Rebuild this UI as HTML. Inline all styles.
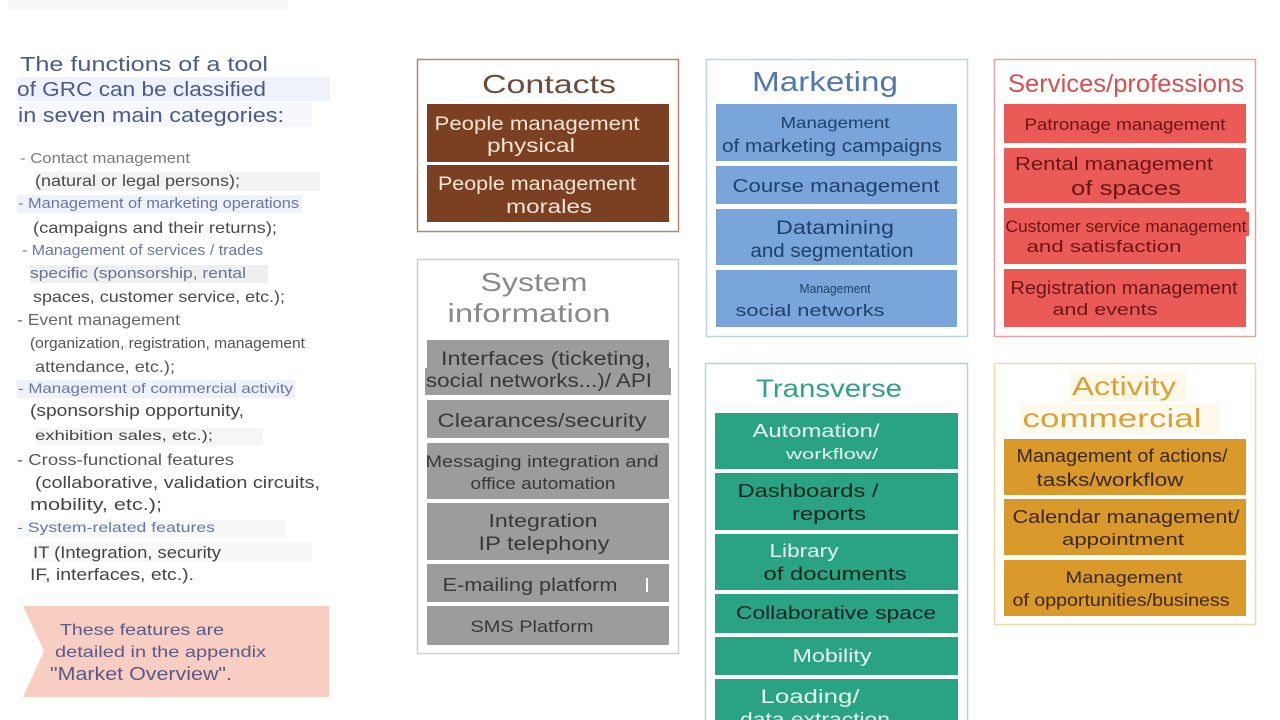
<!DOCTYPE html>
<html><head><meta charset="utf-8"><style>
html,body{margin:0;padding:0;background:#fff;width:1280px;height:720px;overflow:hidden}
svg{display:block}
text{font-family:"Liberation Sans",Arial,sans-serif}
</style></head><body>
<svg width="1280" height="720" viewBox="0 0 1280 720" xmlns="http://www.w3.org/2000/svg">
<rect x="0" y="0" width="1280" height="720" fill="#ffffff"/>
<rect x="8" y="0" width="280" height="10" fill="#f7f7f7"/>

<!-- left highlights -->
<rect x="17" y="77" width="313" height="24" fill="#eef2fb"/>
<rect x="17" y="103" width="295" height="24" fill="#f6f8fd"/>
<rect x="35" y="172" width="285" height="19" fill="#f3f3f3"/>
<rect x="17" y="195" width="285" height="18" fill="#eef2fa"/>
<rect x="30" y="265" width="238" height="18" fill="#efefef"/>
<rect x="17" y="380" width="278" height="18" fill="#edf1fa"/>
<rect x="35" y="428" width="228" height="17" fill="#f6f6f6"/>
<rect x="17" y="520" width="268" height="17" fill="#f7f7f7"/>
<rect x="33" y="542" width="279" height="20" fill="#f8f8f8"/>

<!-- left heading -->
<g fill="#4a5b8c">
<text x="20" y="71" font-size="20" textLength="248" lengthAdjust="spacingAndGlyphs">The functions of a tool</text>
<text x="17" y="96" font-size="20" textLength="249" lengthAdjust="spacingAndGlyphs">of GRC can be classified</text>
<text x="18" y="122" font-size="20" textLength="266" lengthAdjust="spacingAndGlyphs">in seven main categories:</text>
</g>
<!-- left bullets -->
<text x="20" y="163" font-size="15" fill="#7a7a7a" textLength="170" lengthAdjust="spacingAndGlyphs">- Contact management</text>
<text x="35" y="186" font-size="16" fill="#4a4a4a" textLength="205" lengthAdjust="spacingAndGlyphs">(natural or legal persons);</text>
<text x="18" y="208" font-size="15" fill="#6877a6" textLength="281" lengthAdjust="spacingAndGlyphs">- Management of marketing operations</text>
<text x="33" y="233" font-size="16" fill="#4a4a4a" textLength="244" lengthAdjust="spacingAndGlyphs">(campaigns and their returns);</text>
<text x="22" y="255" font-size="15" fill="#6877a6" textLength="241" lengthAdjust="spacingAndGlyphs">- Management of services / trades</text>
<text x="30" y="278" font-size="15" fill="#6a7290" textLength="216" lengthAdjust="spacingAndGlyphs">specific (sponsorship, rental</text>
<text x="33" y="302" font-size="16" fill="#4a4a4a" textLength="252" lengthAdjust="spacingAndGlyphs">spaces, customer service, etc.);</text>
<text x="17" y="325" font-size="16" fill="#666" textLength="163" lengthAdjust="spacingAndGlyphs">- Event management</text>
<text x="30" y="348" font-size="14.5" fill="#555" textLength="275" lengthAdjust="spacingAndGlyphs">(organization, registration, management</text>
<text x="35" y="372" font-size="16" fill="#555" textLength="140" lengthAdjust="spacingAndGlyphs">attendance, etc.);</text>
<text x="18" y="393" font-size="14" fill="#6877a6" textLength="275" lengthAdjust="spacingAndGlyphs">- Management of commercial activity</text>
<text x="30" y="416" font-size="17" fill="#444" textLength="214" lengthAdjust="spacingAndGlyphs">(sponsorship opportunity,</text>
<text x="35" y="440" font-size="14" fill="#444" textLength="178" lengthAdjust="spacingAndGlyphs">exhibition sales, etc.);</text>
<text x="17" y="465" font-size="16" fill="#555" textLength="217" lengthAdjust="spacingAndGlyphs">- Cross-functional features</text>
<text x="35" y="488" font-size="17" fill="#444" textLength="285" lengthAdjust="spacingAndGlyphs">(collaborative, validation circuits,</text>
<text x="30" y="510" font-size="17" fill="#444" textLength="132" lengthAdjust="spacingAndGlyphs">mobility, etc.);</text>
<text x="17" y="532" font-size="13.5" fill="#6877a6" textLength="198" lengthAdjust="spacingAndGlyphs">- System-related features</text>
<text x="33" y="558" font-size="17" fill="#444" textLength="188" lengthAdjust="spacingAndGlyphs">IT (Integration, security</text>
<text x="30" y="580" font-size="17" fill="#444" textLength="164" lengthAdjust="spacingAndGlyphs">IF, interfaces, etc.).</text>

<!-- pink note -->
<polygon points="23,606 329,606 329,697 23,697 44,651" fill="#f8cdc2"/>
<g fill="#5a5a88">
<text x="60" y="635" font-size="16" textLength="164" lengthAdjust="spacingAndGlyphs">These features are</text>
<text x="55" y="657" font-size="16" textLength="211" lengthAdjust="spacingAndGlyphs">detailed in the appendix</text>
<text x="50" y="680" font-size="18" textLength="182" lengthAdjust="spacingAndGlyphs">"Market Overview".</text>
</g>

<!-- CONTACTS -->
<rect x="417.5" y="59.5" width="261" height="172" fill="#fff" stroke="#b08878" stroke-width="1.5"/>
<text x="549" y="93" font-size="26" fill="#6e4a3a" text-anchor="middle" textLength="134" lengthAdjust="spacingAndGlyphs">Contacts</text>
<rect x="427" y="104" width="242" height="58" fill="#7b3f22"/>
<rect x="427" y="165" width="242" height="57" fill="#7b3f22"/>
<g fill="#f3e4d6" text-anchor="middle">
<text x="537" y="130" font-size="19" textLength="205" lengthAdjust="spacingAndGlyphs">People management</text>
<text x="531" y="152" font-size="19" textLength="88" lengthAdjust="spacingAndGlyphs">physical</text>
<text x="537" y="190" font-size="19" textLength="198" lengthAdjust="spacingAndGlyphs">People management</text>
<text x="549" y="213" font-size="19" textLength="86" lengthAdjust="spacingAndGlyphs">morales</text>
</g>

<!-- SYSTEM INFORMATION -->
<rect x="417.5" y="259.5" width="261" height="394" fill="#fff" stroke="#d0d0d0" stroke-width="1.5"/>
<g fill="#8a8a8a" text-anchor="middle">
<text x="534" y="291" font-size="26" textLength="107" lengthAdjust="spacingAndGlyphs">System</text>
<text x="529" y="322" font-size="26" textLength="163" lengthAdjust="spacingAndGlyphs">information</text>
</g>
<g fill="#9c9c9c">
<rect x="427" y="340" width="242" height="55"/>
<rect x="425" y="368" width="246" height="27"/>
<rect x="427" y="400" width="242" height="38"/>
<rect x="427" y="443" width="242" height="56"/>
<rect x="427" y="503" width="242" height="57"/>
<rect x="427" y="564" width="242" height="38"/>
<rect x="427" y="606" width="242" height="39"/>
</g>
<g fill="#383838" text-anchor="middle">
<text x="546" y="365" font-size="19" textLength="210" lengthAdjust="spacingAndGlyphs">Interfaces (ticketing,</text>
<text x="539" y="387" font-size="19" textLength="226" lengthAdjust="spacingAndGlyphs">social networks...)/ API</text>
<text x="542" y="427" font-size="19" textLength="209" lengthAdjust="spacingAndGlyphs">Clearances/security</text>
<text x="542" y="467" font-size="17" textLength="233" lengthAdjust="spacingAndGlyphs">Messaging integration and</text>
<text x="543" y="489" font-size="16.5" textLength="145" lengthAdjust="spacingAndGlyphs">office automation</text>
<text x="543" y="527" font-size="18" textLength="109" lengthAdjust="spacingAndGlyphs">Integration</text>
<text x="544" y="550" font-size="19" textLength="131" lengthAdjust="spacingAndGlyphs">IP telephony</text>
<text x="530" y="591" font-size="18" textLength="175" lengthAdjust="spacingAndGlyphs">E-mailing platform</text>
<text x="532" y="632" font-size="17" textLength="123" lengthAdjust="spacingAndGlyphs">SMS Platform</text>
</g>
<rect x="646" y="578" width="2" height="14" fill="#fff"/>

<!-- MARKETING -->
<rect x="706.5" y="59.5" width="261" height="277" fill="#fff" stroke="#bcd3e6" stroke-width="1.5"/>
<text x="825" y="91" font-size="28" fill="#4f78b0" text-anchor="middle" textLength="146" lengthAdjust="spacingAndGlyphs">Marketing</text>
<g fill="#7aa5da">
<rect x="716" y="104" width="241" height="57"/>
<rect x="716" y="166" width="241" height="38"/>
<rect x="716" y="209" width="241" height="56"/>
<rect x="716" y="270" width="241" height="57"/>
</g>
<g fill="#21406b" text-anchor="middle">
<text x="835" y="128" font-size="16" textLength="109" lengthAdjust="spacingAndGlyphs">Management</text>
<text x="832" y="152" font-size="18" textLength="220" lengthAdjust="spacingAndGlyphs">of marketing campaigns</text>
<text x="836" y="192" font-size="18" textLength="207" lengthAdjust="spacingAndGlyphs">Course management</text>
<text x="835" y="234" font-size="19" textLength="118" lengthAdjust="spacingAndGlyphs">Datamining</text>
<text x="832" y="257" font-size="19" textLength="163" lengthAdjust="spacingAndGlyphs">and segmentation</text>
<text x="835" y="293" font-size="13" textLength="71" lengthAdjust="spacingAndGlyphs">Management</text>
<text x="810" y="316" font-size="17" textLength="149" lengthAdjust="spacingAndGlyphs">social networks</text>
</g>

<!-- TRANSVERSE -->
<rect x="705.5" y="363.5" width="262" height="360" fill="#fff" stroke="#a8dccf" stroke-width="1.5"/>
<text x="829" y="397" font-size="25" fill="#30a088" text-anchor="middle" textLength="146" lengthAdjust="spacingAndGlyphs">Transverse</text>
<g fill="#2aa383">
<rect x="715" y="413" width="243" height="56"/>
<rect x="715" y="473" width="243" height="57"/>
<rect x="715" y="534" width="243" height="56"/>
<rect x="715" y="594" width="243" height="39"/>
<rect x="715" y="637" width="243" height="38"/>
<rect x="715" y="679" width="243" height="45"/>
</g>
<g text-anchor="middle">
<text x="816" y="437" font-size="18" fill="#e6f6ef" textLength="127" lengthAdjust="spacingAndGlyphs">Automation/</text>
<text x="832" y="459" font-size="15" fill="#e6f6ef" textLength="92" lengthAdjust="spacingAndGlyphs">workflow/</text>
<text x="808" y="497" font-size="18" fill="#10261f" textLength="141" lengthAdjust="spacingAndGlyphs">Dashboards /</text>
<text x="829" y="520" font-size="18" fill="#10261f" textLength="74" lengthAdjust="spacingAndGlyphs">reports</text>
<text x="804" y="557" font-size="18" fill="#e6f6ef" textLength="69" lengthAdjust="spacingAndGlyphs">Library</text>
<text x="835" y="580" font-size="18" fill="#10261f" textLength="143" lengthAdjust="spacingAndGlyphs">of documents</text>
<text x="836" y="619" font-size="18" fill="#10261f" textLength="200" lengthAdjust="spacingAndGlyphs">Collaborative space</text>
<text x="832" y="662" font-size="18" fill="#e6f6ef" textLength="79" lengthAdjust="spacingAndGlyphs">Mobility</text>
<text x="810" y="703" font-size="19" fill="#e6f6ef" textLength="99" lengthAdjust="spacingAndGlyphs">Loading/</text>
<text x="815" y="726" font-size="19" fill="#e6f6ef" textLength="150" lengthAdjust="spacingAndGlyphs">data extraction</text>
</g>

<!-- SERVICES -->
<rect x="994.5" y="59.5" width="261" height="277" fill="#fff" stroke="#e3a3a3" stroke-width="1.5"/>
<text x="1126" y="92" font-size="25" fill="#d65050" text-anchor="middle" textLength="236" lengthAdjust="spacingAndGlyphs">Services/professions</text>
<g fill="#ea5a57">
<rect x="1004" y="104" width="242" height="39"/>
<rect x="1004" y="148" width="242" height="55"/>
<rect x="1004" y="208" width="242" height="56"/>
<rect x="1004" y="212" width="245" height="24"/>
<rect x="1004" y="269" width="242" height="58"/>
</g>
<g fill="#6b1616" text-anchor="middle">
<text x="1125" y="130" font-size="17" textLength="201" lengthAdjust="spacingAndGlyphs">Patronage management</text>
<text x="1114" y="170" font-size="18" textLength="198" lengthAdjust="spacingAndGlyphs">Rental management</text>
<text x="1126" y="195" font-size="20" textLength="110" lengthAdjust="spacingAndGlyphs">of spaces</text>
<text x="1126" y="232" font-size="16.5" textLength="241" lengthAdjust="spacingAndGlyphs">Customer service management</text>
<text x="1104" y="252" font-size="17" textLength="155" lengthAdjust="spacingAndGlyphs">and satisfaction</text>
<text x="1124" y="294" font-size="18" textLength="227" lengthAdjust="spacingAndGlyphs">Registration management</text>
<text x="1105" y="315" font-size="17" textLength="105" lengthAdjust="spacingAndGlyphs">and events</text>
</g>

<!-- ACTIVITY COMMERCIAL -->
<rect x="994.5" y="363.5" width="261" height="261" fill="#fff" stroke="#efd9a8" stroke-width="1.5"/>
<rect x="1070" y="372" width="116" height="30" fill="#fdf8e8"/>
<rect x="1020" y="404" width="200" height="30" fill="#fdf9ec"/>
<g fill="#d8a23a" text-anchor="middle">
<text x="1124" y="395" font-size="26" textLength="104" lengthAdjust="spacingAndGlyphs">Activity</text>
<text x="1112" y="427" font-size="26" textLength="179" lengthAdjust="spacingAndGlyphs">commercial</text>
</g>
<g fill="#d99a2b">
<rect x="1004" y="439" width="242" height="56"/>
<rect x="1004" y="499" width="242" height="56"/>
<rect x="1004" y="560" width="242" height="56"/>
</g>
<g fill="#3a2810" text-anchor="middle">
<text x="1122" y="462" font-size="18" textLength="211" lengthAdjust="spacingAndGlyphs">Management of actions/</text>
<text x="1110" y="486" font-size="18" textLength="147" lengthAdjust="spacingAndGlyphs">tasks/workflow</text>
<text x="1126" y="523" font-size="18" textLength="227" lengthAdjust="spacingAndGlyphs">Calendar management/</text>
<text x="1123" y="545" font-size="17" textLength="122" lengthAdjust="spacingAndGlyphs">appointment</text>
<text x="1124" y="583" font-size="16.5" textLength="117" lengthAdjust="spacingAndGlyphs">Management</text>
<text x="1121" y="606" font-size="17.5" textLength="217" lengthAdjust="spacingAndGlyphs">of opportunities/business</text>
</g>
</svg>
</body></html>
